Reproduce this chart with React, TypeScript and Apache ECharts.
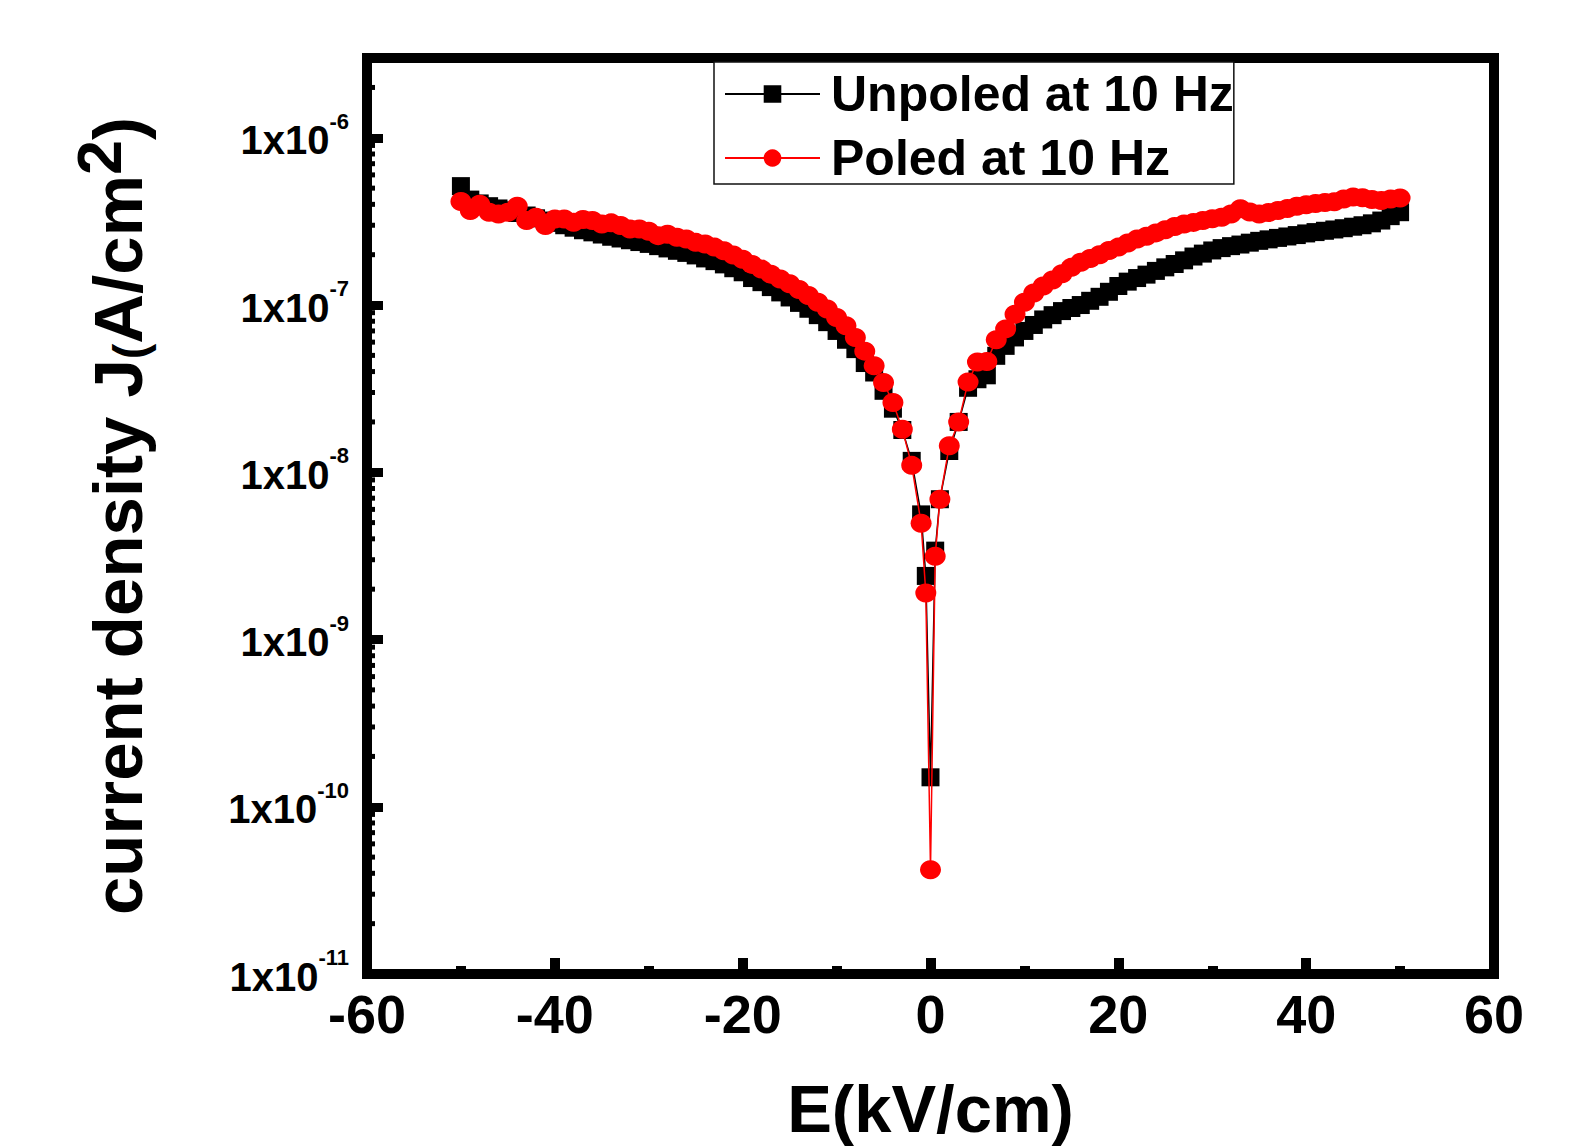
import React, { useEffect, useRef } from "react";
import * as echarts from "echarts";

const FONT = "'Liberation Sans', Arial, Helvetica, sans-serif";

// Electric field (kV/cm)
const fieldE = [
  -50, -49, -48, -47, -46, -45, -44, -43, -42, -41,
  -40, -39, -38, -37, -36, -35, -34, -33, -32, -31,
  -30, -29, -28, -27, -26, -25, -24, -23, -22, -21,
  -20, -19, -18, -17, -16, -15, -14, -13, -12, -11,
  -10, -9, -8, -7, -6, -5, -4, -3, -2, -1,
  -0.5, 0, 0.5,
  1, 2, 3, 4, 5, 6, 7, 8, 9, 10,
  11, 12, 13, 14, 15, 16, 17, 18, 19, 20,
  21, 22, 23, 24, 25, 26, 27, 28, 29, 30,
  31, 32, 33, 34, 35, 36, 37, 38, 39, 40,
  41, 42, 43, 44, 45, 46, 47, 48, 49, 50,
];

// Current density J (A/cm^2), unpoled
const unpoled = [
  5.14e-7, 4.27e-7, 4.05e-7, 3.9e-7, 3.78e-7, 3.68e-7, 3.55e-7, 3.43e-7, 3.3e-7, 3.2e-7,
  3.1e-7, 3.0e-7, 2.9e-7, 2.8e-7, 2.72e-7, 2.64e-7, 2.56e-7, 2.5e-7, 2.44e-7, 2.38e-7,
  2.32e-7, 2.25e-7, 2.18e-7, 2.11e-7, 2.05e-7, 1.98e-7, 1.9e-7, 1.83e-7, 1.75e-7, 1.66e-7,
  1.57e-7, 1.45e-7, 1.37e-7, 1.28e-7, 1.19e-7, 1.11e-7, 1.03e-7, 9.5e-8, 8.7e-8, 7.9e-8,
  7.0e-8, 6.2e-8, 5.45e-8, 4.5e-8, 3.95e-8, 3.07e-8, 2.4e-8, 1.79e-8, 1.17e-8, 5.6e-9,
  2.4e-9, 1.5e-10, 3.4e-9,
  6.9e-9, 1.34e-8, 2.0e-8, 3.2e-8, 3.6e-8, 3.8e-8, 4.97e-8, 5.7e-8, 6.4e-8, 7.0e-8,
  7.6e-8, 8.2e-8, 8.7e-8, 9.2e-8, 9.6e-8, 1.0e-7, 1.06e-7, 1.12e-7, 1.2e-7, 1.3e-7,
  1.38e-7, 1.45e-7, 1.52e-7, 1.6e-7, 1.68e-7, 1.76e-7, 1.85e-7, 1.95e-7, 2.03e-7, 2.12e-7,
  2.19e-7, 2.25e-7, 2.3e-7, 2.36e-7, 2.42e-7, 2.47e-7, 2.52e-7, 2.57e-7, 2.62e-7, 2.68e-7,
  2.73e-7, 2.78e-7, 2.83e-7, 2.88e-7, 2.94e-7, 3.0e-7, 3.08e-7, 3.2e-7, 3.4e-7, 3.59e-7,
];

// Current density J (A/cm^2), poled
const poled = [
  4.16e-7, 3.67e-7, 4.0e-7, 3.59e-7, 3.5e-7, 3.59e-7, 3.9e-7, 3.2e-7, 3.35e-7, 2.99e-7,
  3.27e-7, 3.27e-7, 3.13e-7, 3.25e-7, 3.2e-7, 3.05e-7, 3.1e-7, 2.99e-7, 2.85e-7, 2.85e-7,
  2.76e-7, 2.6e-7, 2.65e-7, 2.54e-7, 2.48e-7, 2.37e-7, 2.32e-7, 2.22e-7, 2.11e-7, 1.99e-7,
  1.88e-7, 1.75e-7, 1.64e-7, 1.53e-7, 1.43e-7, 1.34e-7, 1.24e-7, 1.14e-7, 1.04e-7, 9.46e-8,
  8.43e-8, 7.52e-8, 6.4e-8, 5.3e-8, 4.34e-8, 3.44e-8, 2.61e-8, 1.81e-8, 1.1e-8, 4.95e-9,
  1.9e-9, 4.2e-11, 3.15e-9,
  6.9e-9, 1.44e-8, 2.0e-8, 3.47e-8, 4.57e-8, 4.6e-8, 6.2e-8, 7.2e-8, 8.8e-8, 1.04e-7,
  1.18e-7, 1.3e-7, 1.41e-7, 1.54e-7, 1.68e-7, 1.8e-7, 1.9e-7, 2.0e-7, 2.12e-7, 2.22e-7,
  2.35e-7, 2.48e-7, 2.58e-7, 2.7e-7, 2.82e-7, 2.95e-7, 3.05e-7, 3.12e-7, 3.2e-7, 3.28e-7,
  3.35e-7, 3.5e-7, 3.76e-7, 3.6e-7, 3.5e-7, 3.58e-7, 3.68e-7, 3.78e-7, 3.9e-7, 3.98e-7,
  4.05e-7, 4.1e-7, 4.15e-7, 4.3e-7, 4.42e-7, 4.38e-7, 4.28e-7, 4.22e-7, 4.3e-7, 4.36e-7,
];

// Major y tick exponents (labelled as 1x10^n)
const yTickExponents = [-11, -10, -9, -8, -7, -6];

// Minor log ticks on the y axis
const yMinorTicks = [
  2e-11, 3e-11, 4e-11, 5e-11, 6e-11, 7e-11, 8e-11, 9e-11,
  2e-10, 3e-10, 4e-10, 5e-10, 6e-10, 7e-10, 8e-10, 9e-10,
  2e-9, 3e-9, 4e-9, 5e-9, 6e-9, 7e-9, 8e-9, 9e-9,
  2e-8, 3e-8, 4e-8, 5e-8, 6e-8, 7e-8, 8e-8, 9e-8,
  2e-7, 3e-7, 4e-7, 5e-7, 6e-7, 7e-7, 8e-7, 9e-7,
  2e-6, 3e-6,
];

const seriesNames = ["Unpoled at 10 Hz", "Poled at 10 Hz"];

export default function App() {
  const ref = useRef<HTMLDivElement>(null);

  useEffect(() => {
    if (!ref.current) return;
    const chart = echarts.init(ref.current, undefined, { renderer: "svg" });

    const option: any = {
      animation: false,
      backgroundColor: "#ffffff",
      textStyle: { fontFamily: FONT, color: "#000" },
      grid: {
        left: 367,
        top: 58,
        width: 1127,
        height: 916,
        containLabel: false,
        outerBoundsMode: "none",
        show: true,
        borderColor: "#000",
        borderWidth: 10,
        backgroundColor: "transparent",
      },
      legend: {
        data: seriesNames,
        orient: "vertical",
        left: 714,
        top: 62,
        padding: [7, 0, 1, 10],
        itemGap: 14,
        itemWidth: 95,
        itemHeight: 22,
        borderColor: "#111",
        borderWidth: 1.5,
        backgroundColor: "#fff",
        selectedMode: false,
        textStyle: {
          fontFamily: FONT,
          fontSize: 50,
          fontWeight: "bold",
          color: "#000",
          lineHeight: 50,
          padding: [0, 0, 0, 6],
        },
        z: 10,
      },
      xAxis: {
        type: "value",
        min: -60,
        max: 60,
        interval: 20,
        name: "E(kV/cm)",
        nameLocation: "middle",
        nameGap: 104,
        nameTextStyle: {
          fontFamily: FONT,
          fontSize: 67,
          fontWeight: "bold",
          color: "#000",
          lineHeight: 60,
        },
        axisLine: { show: true, onZero: false, lineStyle: { color: "#000", width: 10 } },
        axisTick: { show: true, inside: true, length: 16, lineStyle: { color: "#000", width: 10 } },
        minorTick: { show: true, splitNumber: 2, length: 8, lineStyle: { color: "#000", width: 10 } },
        splitLine: { show: false },
        axisLabel: {
          fontFamily: FONT,
          fontSize: 54,
          fontWeight: "bold",
          color: "#000",
          lineHeight: 54,
          margin: 13,
        },
      },
      yAxis: {
        type: "log",
        logBase: 10,
        min: 1e-11,
        max: 3e-6,
        name: "{t|current density J}{p|(}{t|A/cm}{s|2}{t|)}",
        nameLocation: "middle",
        nameGap: 214,
        nameTextStyle: {
          fontFamily: FONT,
          fontWeight: "bold",
          color: "#000",
          rich: {
            t: { fontFamily: FONT, fontSize: 69, fontWeight: "bold", color: "#000", lineHeight: 86, verticalAlign: "bottom" },
            p: { fontFamily: FONT, fontSize: 46, fontWeight: "bold", color: "#000", lineHeight: 86, verticalAlign: "bottom" },
            s: { fontFamily: FONT, fontSize: 63, fontWeight: "bold", color: "#000", lineHeight: 44, verticalAlign: "top" },
          },
        },
        axisLine: { show: true, onZero: false, lineStyle: { color: "#000", width: 10 } },
        axisTick: { show: true, inside: true, length: 16, lineStyle: { color: "#000", width: 9 } },
        minorTick: { show: false },
        splitLine: { show: false },
        axisLabel: {
          margin: 18,
          padding: [0, 0, 5, 0],
          formatter: (v: number) => {
            const e = Math.round(Math.log10(v));
            if (Math.abs(Math.log10(v) - e) > 1e-6 || yTickExponents.indexOf(e) < 0) return "";
            return "{m|1x10}{s|" + e + "}";
          },
          rich: {
            m: { fontFamily: FONT, fontSize: 40, fontWeight: "bold", color: "#000", lineHeight: 50, verticalAlign: "bottom" },
            s: { fontFamily: FONT, fontSize: 22, fontWeight: "bold", color: "#000", lineHeight: 24, verticalAlign: "top" },
          },
        },
      },
      series: [
        {
          name: seriesNames[0],
          type: "line",
          data: fieldE.map((x, i) => [x, unpoled[i]]),
          symbol: "rect",
          symbolSize: 18,
          showAllSymbol: true,
          itemStyle: { color: "#000" },
          lineStyle: { color: "#000", width: 1.5 },
          z: 3,
        },
        {
          name: seriesNames[1],
          type: "line",
          data: fieldE.map((x, i) => [x, poled[i]]),
          symbol: "circle",
          symbolSize: [21, 19],
          showAllSymbol: true,
          itemStyle: { color: "#ff0000" },
          lineStyle: { color: "#ff0000", width: 1.5 },
          z: 4,
        },
        {
          type: "custom",
          silent: true,
          clip: false,
          data: yMinorTicks.map((v) => [-60, v]),
          renderItem: (params: any, api: any) => {
            const p = api.coord([api.value(0), api.value(1)]);
            return {
              type: "line",
              shape: { x1: p[0], y1: p[1], x2: p[0] + 8, y2: p[1] },
              style: { stroke: "#000", lineWidth: 5 },
            };
          },
          z: 5,
        },
      ],
    };

    chart.setOption(option);
    return () => {
      chart.dispose();
    };
  }, []);

  return (
    <div
      ref={ref}
      style={{
        position: "fixed",
        left: 0,
        top: 0,
        width: 1585,
        height: 1146,
        background: "#fff",
      }}
    />
  );
}
